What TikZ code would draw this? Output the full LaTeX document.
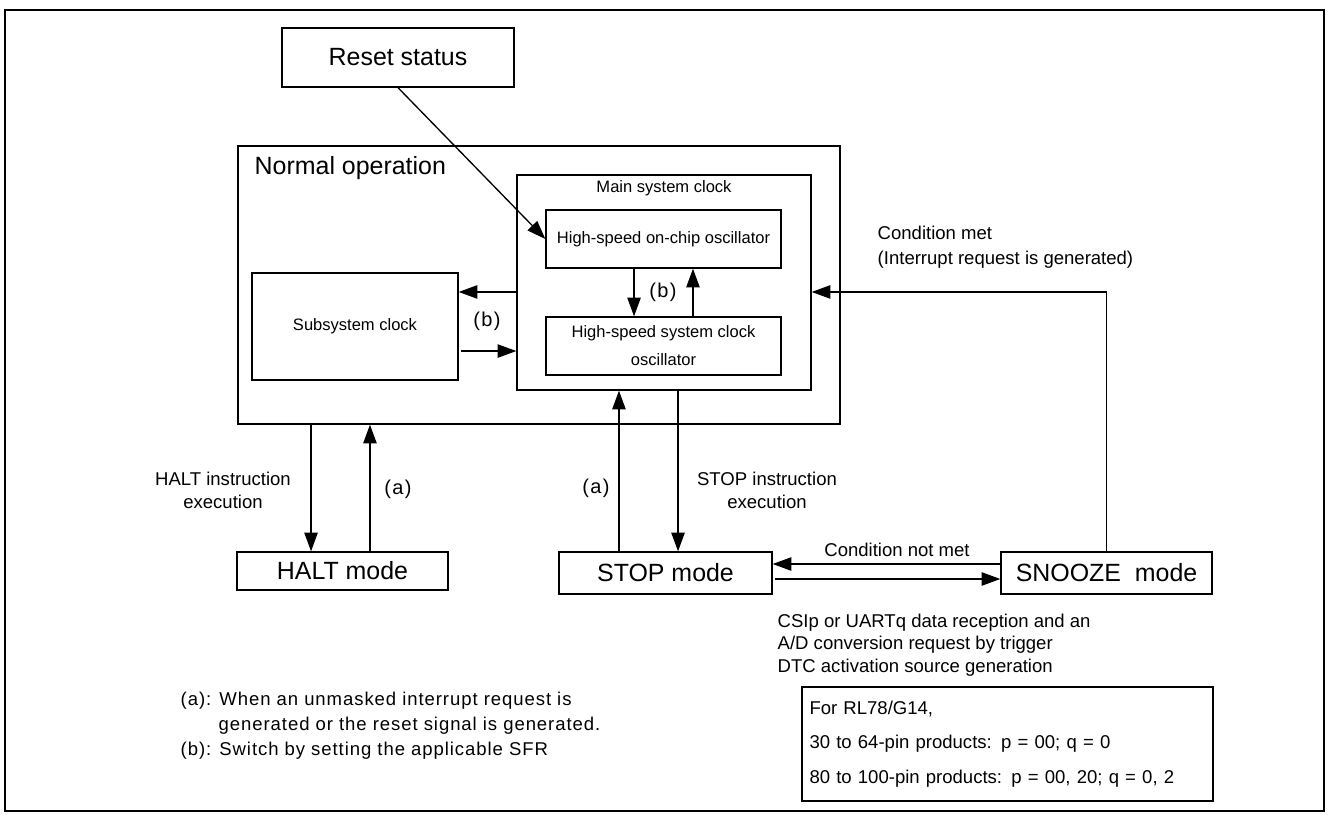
\documentclass[tikz,border=0pt]{standalone}
\usepackage{fontspec}
\setmainfont{Liberation Sans}
\newfontfamily\notefont[LetterSpace=5]{Liberation Sans}
\usetikzlibrary{arrows.meta,positioning}

\begin{document}
\begin{tikzpicture}[x=0.75pt, y=-0.75pt,
  box/.style={draw, rectangle, line width=1pt, inner sep=0pt, align=center, text=black},
  big/.style={font=\fontsize{18.7}{22}\selectfont},
  mid/.style={font=\fontsize{13.9}{17.25}\selectfont},
  small/.style={font=\fontsize{12.4}{21}\selectfont},
  tag/.style={font=\fontsize{15}{18}\selectfont},
  arr/.style={-{Triangle[length=14pt,width=10pt]}, line width=1pt}]
  \useasboundingbox (0,0) rectangle (1328,814);
  \draw[line width=1.6pt] (5,10) rectangle (1324,811);

  \node[box, big, minimum width=174pt, minimum height=44.25pt] (reset) at (398,57.5) {Reset status};
  \node[box, minimum width=451.5pt, minimum height=208.5pt] (normal) at (539,285) {};
  \node[big, anchor=west] (normaltitle) at (250,168) {Normal operation};
  \node[box, minimum width=220.5pt, minimum height=161.25pt] (mainclk) at (664,282.5) {};
  \node[small] (maintitle) at (664,188) {Main system clock};
  \node[box, small, minimum width=176.25pt, minimum height=43.5pt] (hoco) at (663.5,239) {High-speed on-chip oscillator};
  \node[box, small, minimum width=176.25pt, minimum height=43.5pt] (hxosc) at (663.5,346) {High-speed system clock\\oscillator};
  \node[box, small, minimum width=154.5pt, minimum height=80.25pt] (subclk) at (355,326.5) {Subsystem clock};
  \node[box, big, minimum width=158.25pt, minimum height=28.5pt] (halt) at (342.5,571) {HALT mode};
  \node[box, big, minimum width=159.75pt, minimum height=31.5pt] (stop) at (665.5,573) {STOP mode};
  \node[box, big, minimum width=158.25pt, minimum height=31.5pt] (snooze) at (1106.5,573) {SNOOZE\ \ mode};
  \node[box, mid, minimum width=308.25pt, minimum height=85.5pt, text width=297pt, inner xsep=5.6pt, align=left,
        font=\fontsize{13.9}{25.9}\selectfont] (products) at (1007.5,744)
        {For RL78/G14,\\30 to 64-pin products: p = 00; q = 0\\80 to 100-pin products: p = 00, 20; q = 0, 2};

  \draw[arr] (reset.south) -- (hoco.west);
  \draw[arr] ([xshift=-22.1pt]hoco.south) -- ([xshift=-22.1pt]hxosc.north);
  \draw[arr] ([xshift=22.1pt]hxosc.north) -- ([xshift=22.1pt]hoco.south);
  \node[tag] (b1) at (663,292) {(\kern1pt b\kern1pt)};
  \draw[arr] ([yshift=25.9pt]subclk.east -| mainclk.west) -- ([yshift=25.9pt]subclk.east);
  \draw[arr] ([xshift=1.5pt, yshift=-18.4pt]subclk.east) -- ([yshift=-18.4pt]subclk.east -| mainclk.west);
  \node[tag] (b2) at (487,321) {(\kern1pt b\kern1pt)};

  \draw[arr] ([xshift=-23.6pt]halt.north |- normal.south) -- ([xshift=-23.6pt]halt.north);
  \draw[arr] ([xshift=20.6pt]halt.north) -- ([xshift=20.6pt]halt.north |- normal.south);
  \node[mid, align=center] (haltlbl) at (223,490) {HALT instruction\\execution};
  \node[tag] (a1) at (398,489) {(\kern1pt a\kern1pt)};

  \draw[arr] ([xshift=-34.9pt]stop.north) -- ([xshift=-34.9pt]stop.north |- mainclk.south);
  \draw[arr] ([xshift=9.4pt]stop.north |- mainclk.south) -- ([xshift=9.4pt]stop.north);
  \node[tag] (a2) at (596,488) {(\kern1pt a\kern1pt)};
  \node[mid, align=center] (stoplbl) at (767,490) {STOP instruction\\execution};

  \draw[arr] ([yshift=6.75pt]snooze.west) -- ([yshift=6.75pt]snooze.west -| stop.east);
  \draw[arr] ([xshift=1.5pt, yshift=-4.5pt]stop.east) -- ([yshift=-4.5pt]stop.east -| snooze.west);
  \node[mid] (notmet) at (897,550) {Condition not met};

  \draw[arr] (snooze.north) |- ([yshift=-7.1pt]mainclk.east);
  \node[mid, anchor=west, align=left, font=\fontsize{13.9}{18.75}\selectfont] (met) at (873,247)
        {Condition met\\(Interrupt request is generated)};
  \node[mid, anchor=west, align=left, font=\fontsize{13.9}{16.9}\selectfont] (wake) at (773,645)
        {CSIp or UARTq data reception and an\\A/D conversion request by trigger\\DTC activation source generation};

  \node[anchor=west, align=left, font=\notefont\fontsize{13.9}{18.75}\selectfont] (notes) at (176,726)
        {(a): When an unmasked interrupt request is\\\hspace*{28.5pt}generated or the reset signal is generated.\\(b): Switch by setting the applicable SFR};
\end{tikzpicture}
\end{document}
